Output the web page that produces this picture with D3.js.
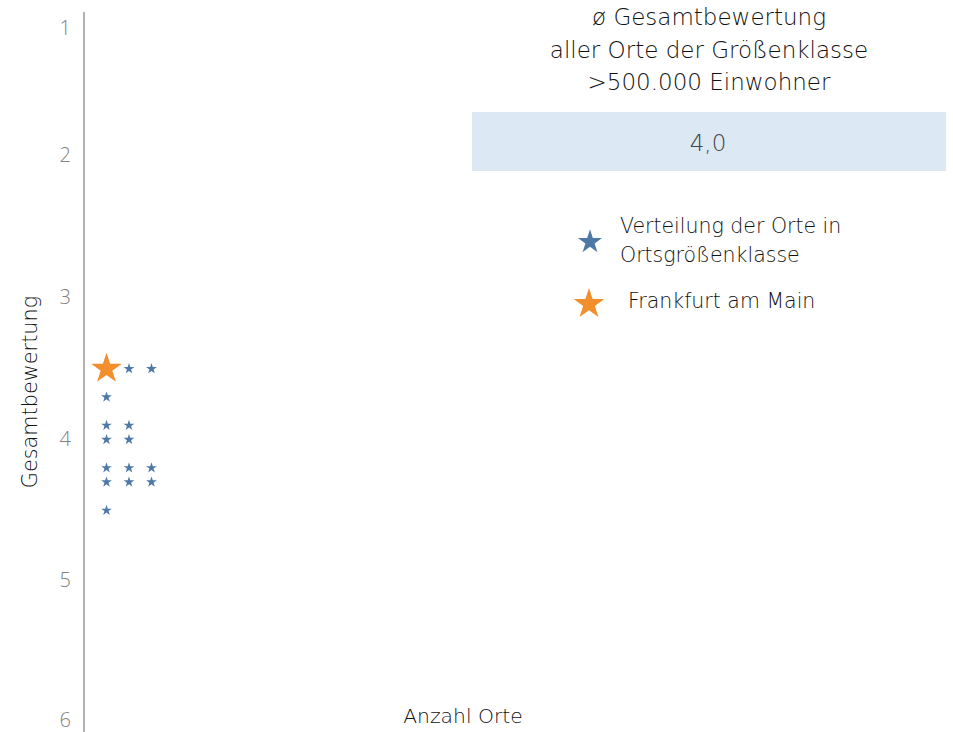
<!DOCTYPE html>
<html><head><meta charset="utf-8">
<script src="https://cdn.jsdelivr.net/npm/d3@7"></script>
<style>
body{margin:0;background:#fff;}
svg{display:block;font-family:"DejaVu Sans","Noto Sans",sans-serif;font-weight:200;}
</style></head>
<body>
<svg id="c" width="953" height="732"></svg>
<script>
// Scores of all places in size class (>500.000 inhabitants)
const placeNames = ["Frankfurt am Main","Ort 2","Ort 3","Ort 4","Ort 5","Ort 6","Ort 7","Ort 8","Ort 9","Ort 10","Ort 11","Ort 12","Ort 13","Ort 14","Ort 15"];
const placeScores = [3.5, 3.5, 3.5, 3.7, 3.9, 3.9, 4.0, 4.0, 4.2, 4.2, 4.2, 4.3, 4.3, 4.3, 4.5];
const highlightName = "Frankfurt am Main";
const yTicks = [1, 2, 3, 4, 5, 6];
const titleLines = ["ø Gesamtbewertung", "aller Orte der Größenklasse", ">500.000 Einwohner"];
const legendLabels = [["Verteilung der Orte in", "Ortsgrößenklasse"], ["Frankfurt am Main"]];
const colors = {blue: "#4e79a7", orange: "#f28e2b"};

const svg = d3.select("#c");
const y = d3.scaleLinear().domain([1, 6]).range([13.5, 722]);
const x = d3.scaleLinear().domain([-1, 37]).range([84, 84 + 38 * 22.5]);

// axis
const axis = d3.axisLeft(y).tickValues(yTicks).tickSize(0).tickPadding(13).tickFormat(d3.format("d"));
const gAxis = svg.append("g").attr("transform", "translate(84,0)").call(axis);
gAxis.select(".domain").attr("stroke", "#9a9a9a").attr("stroke-width", 1.5).attr("d", "M0,12V732");
gAxis.selectAll("text").attr("fill", "#808080").attr("font-size", 20).attr("font-family", "Open Sans, sans-serif")
  .attr("font-weight", 300)
  .attr("dy", d => d === 1 ? "1.05em" : d === 6 ? "0.2em" : "0.32em");

// stack index per score
const counter = {};
const pts = placeScores.map((s, i) => {
  const k = s.toFixed(1);
  counter[k] = (counter[k] || 0);
  const idx = counter[k]++;
  return {name: placeNames[i], score: s, idx};
});

const star = d3.symbol().type(d3.symbolStar);
svg.append("g").selectAll("path").data(pts).join("path")
  .attr("transform", d => `translate(${x(d.idx)},${y(d.score) + 1})`)
  .attr("d", d => star.size(d.name === highlightName ? 290 : 36)())
  .attr("fill", d => d.name === highlightName ? colors.orange : colors.blue);

// axis titles
svg.append("text").attr("x", 463).attr("y", 723).attr("text-anchor", "middle")
  .attr("font-size", 20.3).attr("fill", "#111").text("Anzahl Orte");
svg.append("text").attr("transform", "translate(37,392) rotate(-90)").attr("text-anchor", "middle")
  .attr("font-size", 20.8).attr("fill", "#111").text("Gesamtbewertung");

// title block
svg.append("g").selectAll("text").data(titleLines).join("text")
  .attr("x", 709).attr("y", (d, i) => 25 + i * 32.5).attr("text-anchor", "middle")
  .attr("font-size", 23).attr("fill", "#111").text(d => d);

const mean = d3.mean(placeScores);
svg.append("rect").attr("x", 472).attr("y", 112).attr("width", 474).attr("height", 59).attr("fill", "#dce8f4");
svg.append("text").attr("x", 708).attr("y", 151).attr("text-anchor", "middle")
  .attr("font-size", 23).attr("fill", "#444").text(d3.format(".1f")(mean).replace(".", ","));

// legend
svg.append("path").attr("transform", "translate(590,242)").attr("d", star.size(180)()).attr("fill", colors.blue);
svg.append("path").attr("transform", "translate(589,304)").attr("d", star.size(290)()).attr("fill", colors.orange);
svg.append("g").selectAll("text").data(legendLabels[0]).join("text")
  .attr("x", 620).attr("y", (d, i) => 233 + i * 29).attr("font-size", 20.5).attr("fill", "#111").text(d => d);
svg.append("text").attr("x", 628).attr("y", 308).attr("font-size", 20.5).attr("fill", "#111").text(legendLabels[1][0]);
</script>
</body></html>
